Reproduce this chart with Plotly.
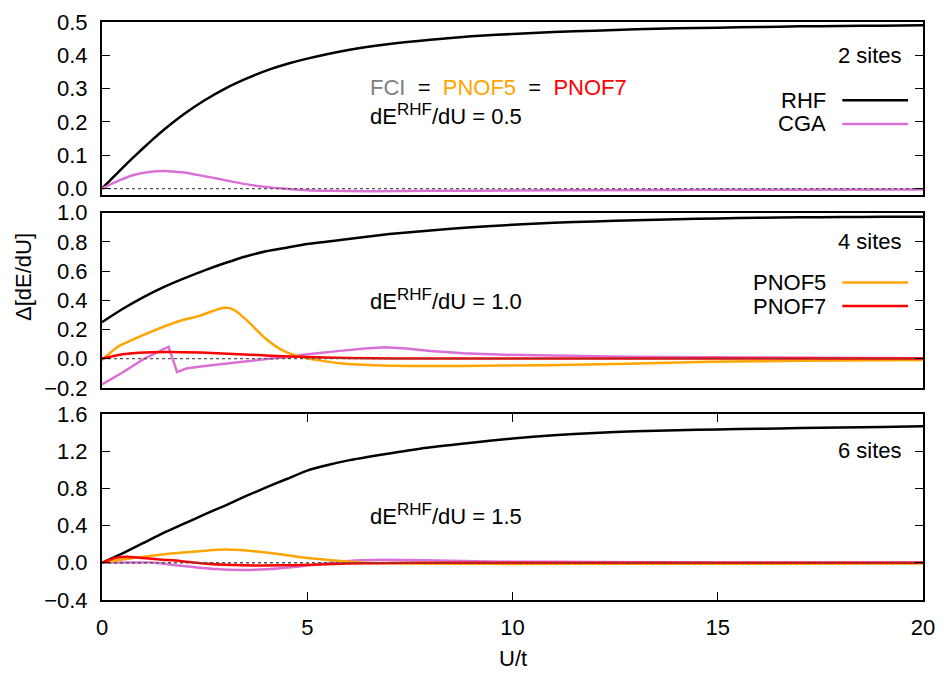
import plotly.graph_objects as go

# ---------------- data ----------------
U_RANGE = [0, 20]
fci_u = [0, 20]
fci_v = [0.0, 0.0]

# 2 sites
u2_rhf = [0, 0.25, 0.5, 0.75, 1, 1.25, 1.5, 2, 2.5, 3, 3.5, 4, 4.5, 5, 6, 7, 8, 9, 10,
          11, 12, 13, 14, 15, 16, 17, 18, 19, 20]
v2_rhf = [0.0, 0.031, 0.062, 0.092, 0.121, 0.149, 0.176, 0.224, 0.265, 0.300, 0.329, 0.354,
          0.374, 0.390, 0.416, 0.434, 0.447, 0.457, 0.464, 0.470, 0.474, 0.478, 0.481, 0.483,
          0.485, 0.487, 0.488, 0.489, 0.490]
u2_cga = [0, 0.3, 0.75, 1.1, 1.5, 2.0, 2.5, 2.8, 3.2, 3.6, 4.0, 4.4, 5.0, 5.5, 6.5, 8, 10, 12, 15, 20]
v2_cga = [0.0, 0.018, 0.040, 0.049, 0.053, 0.048, 0.037, 0.030, 0.020, 0.011, 0.005, 0.0,
          -0.005, -0.007, -0.008, -0.007, -0.006, -0.005, -0.004, -0.003]

# 4 sites
u4_rhf = [0, 0.5, 1, 1.5, 2, 2.5, 3, 3.5, 4, 4.5, 5, 6, 7, 8, 9, 10, 11, 12, 13, 14, 15,
          16, 17, 18, 19, 20]
v4_rhf = [0.25, 0.34, 0.42, 0.49, 0.55, 0.605, 0.655, 0.70, 0.735, 0.76, 0.785, 0.82, 0.853,
          0.878, 0.90, 0.917, 0.93, 0.94, 0.948, 0.955, 0.96, 0.965, 0.968, 0.97, 0.971, 0.972]
u4_cga = [0, 0.5, 1.0, 1.3, 1.62, 1.83, 2.05, 2.5, 3, 3.5, 4, 4.5, 5, 5.8, 6.4, 6.9, 7.4, 8,
          8.8, 9.8, 10.8, 12.8, 14.8, 17, 20]
v4_cga = [-0.177, -0.095, -0.005, 0.035, 0.082, -0.092, -0.068, -0.05, -0.033, -0.018, -0.003,
          0.01, 0.03, 0.053, 0.07, 0.078, 0.069, 0.052, 0.036, 0.026, 0.02, 0.013, 0.009, 0.005,
          0.002]
u4_p5 = [0, 0.2, 0.4, 0.75, 1.16, 1.56, 1.97, 2.37, 2.7, 2.94, 3.1, 3.26, 3.58, 3.99, 4.39,
         4.8, 5.3, 5.8, 6.8, 8.8, 10.8, 12.8, 14.8, 17, 20]
v4_p5 = [-0.01, 0.04, 0.085, 0.13, 0.18, 0.225, 0.264, 0.293, 0.326, 0.346, 0.346, 0.326,
         0.248, 0.136, 0.058, 0.015, -0.012, -0.032, -0.047, -0.05, -0.045, -0.035, -0.022,
         -0.015, -0.01]
u4_p7 = [0, 0.4, 0.9, 1.6, 2.4, 3.2, 4.0, 4.8, 6, 8, 20]
v4_p7 = [0.0, 0.025, 0.04, 0.046, 0.042, 0.032, 0.022, 0.012, 0.004, 0.0, 0.0]

# 6 sites
u6_rhf = [0, 0.5, 1, 1.5, 2, 2.5, 3, 3.5, 4, 4.5, 5, 5.5, 6, 6.5, 7, 8, 9, 10, 11, 12, 13,
          14, 15, 16, 17, 18, 19, 20]
v6_rhf = [0.0, 0.10, 0.21, 0.32, 0.42, 0.52, 0.615, 0.715, 0.81, 0.90, 0.99, 1.05, 1.10,
          1.14, 1.175, 1.24, 1.29, 1.335, 1.37, 1.395, 1.412, 1.424, 1.433, 1.44, 1.447, 1.453,
          1.46, 1.466]
u6_cga = [0, 0.5, 1.2, 2.0, 2.8, 3.35, 4.0, 4.8, 5.3, 5.8, 6.3, 6.8, 7.5, 8.8, 10, 12, 15, 20]
v6_cga = [0.0, 0.003, 0.002, -0.035, -0.068, -0.078, -0.07, -0.04, -0.015, 0.012, 0.027,
          0.033, 0.03, 0.018, 0.012, 0.008, 0.004, 0.002]
u6_p5 = [0, 0.4, 0.75, 1.56, 2.37, 2.84, 3.2, 3.58, 4.0, 4.39, 4.8, 5.3, 5.8, 6.3, 6.8, 8,
         10, 15, 20]
v6_p5 = [0.0, 0.03, 0.05, 0.095, 0.125, 0.14, 0.14, 0.13, 0.11, 0.089, 0.063, 0.04, 0.018,
         0.004, -0.005, -0.01, -0.012, -0.01, -0.008]
u6_p7 = [0, 0.2, 0.4, 0.6, 0.9, 1.4, 1.9, 2.4, 3.2, 4.4, 5.3, 6, 7, 8, 20]
v6_p7 = [0.0, 0.035, 0.058, 0.064, 0.055, 0.035, 0.02, -0.005, -0.025, -0.028, -0.018,
         -0.008, -0.002, 0.0, 0.0]

panel_labels = ["2 sites", "4 sites", "6 sites"]
slope_values = ["0.5", "1.0", "1.5"]
y_ranges = [[-0.02, 0.5], [-0.2, 1.0], [-0.4, 1.6]]
y_dticks = [0.1, 0.2, 0.4]
x_ticks = [0, 5, 10, 15, 20]

# ---------------- styles ----------------
C_RHF = "#000000"
C_CGA = "#DA70D6"
C_P5 = "#FFA500"
C_P7 = "#FF0000"
C_FCI = "#808080"
LW = 2.5
FONT = "Liberation Sans, Arial, sans-serif"
FS = 22

W, H = 945, 674
L, R, T, B = 102, 19, 10, 74
PW, PH = W - L - R, H - T - B


def xp(px):
    return (px - L) / PW


def yp(py):
    return (H - B - py) / PH


domains = [[yp(186.8), 1.0], [yp(383.4), yp(204.6)], [0.0, yp(410)]]

fig = go.Figure()


def add(u, v, color, ax, name, shape="spline"):
    fig.add_trace(go.Scatter(
        x=u, y=v, mode="lines", name=name, showlegend=False,
        line=dict(color=color, width=LW, shape=shape, smoothing=0.6),
        xaxis="x" + ax, yaxis="y" + ax, hoverinfo="skip"))


def add_fci(ax):
    fig.add_trace(go.Scatter(
        x=fci_u, y=fci_v, mode="lines", name="FCI", showlegend=False,
        line=dict(color="#555555", width=1.3, dash="dot"),
        xaxis="x" + ax, yaxis="y" + ax, hoverinfo="skip"))


# panel 1
add(u2_rhf, v2_rhf, C_RHF, "", "RHF")
add(u2_cga, v2_cga, C_CGA, "", "CGA")
add_fci("")
# panel 2
add(u4_rhf, v4_rhf, C_RHF, "2", "RHF")
add(u4_cga, v4_cga, C_CGA, "2", "CGA", shape="linear")
add(u4_p5, v4_p5, C_P5, "2", "PNOF5")
add(u4_p7, v4_p7, C_P7, "2", "PNOF7")
add_fci("2")
# panel 3
add(u6_rhf, v6_rhf, C_RHF, "3", "RHF")
add(u6_cga, v6_cga, C_CGA, "3", "CGA")
add(u6_p5, v6_p5, C_P5, "3", "PNOF5")
add(u6_p7, v6_p7, C_P7, "3", "PNOF7")
add_fci("3")

layout = dict(
    width=W, height=H, margin=dict(l=L, r=R, t=T, b=B),
    paper_bgcolor="white", plot_bgcolor="white",
    font=dict(family=FONT, size=FS, color="black"),
    showlegend=False,
)

for i, key in enumerate(["", "2", "3"]):
    bottom = (i == 2)
    layout["xaxis" + key] = dict(
        domain=[0, 1], anchor="y" + key, range=U_RANGE,
        showline=True, linecolor="black", linewidth=2, mirror="ticks" if bottom else True,
        ticks="inside" if bottom else "", ticklen=8, tickwidth=1, tickcolor="black",
        tickvals=x_ticks if bottom else [], showticklabels=bottom,
        ticklabelstandoff=7,
        showgrid=False, zeroline=False,
        tickfont=dict(family=FONT, size=FS),
    )
    layout["yaxis" + key] = dict(
        domain=domains[i], anchor="x" + key, range=y_ranges[i],
        dtick=y_dticks[i], tick0=0, tickformat=".1f",
        showline=True, linecolor="black", linewidth=2, mirror="ticks",
        ticks="inside", ticklen=8, tickwidth=1, tickcolor="black",
        ticklabelstandoff=8,
        showgrid=False, zeroline=False,
        tickfont=dict(family=FONT, size=FS),
    )

fig.update_layout(**layout)

ann = []
shapes = []

# panel labels
for lab, py in zip(panel_labels, [44, 234, 447]):
    ann.append(dict(text=lab, x=xp(907), y=yp(py), xref="paper", yref="paper",
                    xanchor="right", yanchor="middle", showarrow=False))

# slope labels
for val, py in zip(slope_values, [104, 293, 513]):
    lab = "dE<sup><span style='font-size:17px'>RHF</span></sup>/dU = " + val
    ann.append(dict(text=lab, x=xp(369), y=yp(py), xref="paper", yref="paper",
                    xanchor="left", yanchor="middle", showarrow=False))

# equality line in top panel
eq_text = ("<span style='color:%s'>FCI</span>\u00a0\u00a0=\u00a0\u00a0"
           "<span style='color:%s'>PNOF5</span>\u00a0\u00a0=\u00a0\u00a0"
           "<span style='color:%s'>PNOF7</span>") % (C_FCI, C_P5, C_P7)
ann.append(dict(text=eq_text, x=xp(369), y=yp(77), xref="paper", yref="paper",
                xanchor="left", yanchor="middle", showarrow=False))

# manual keys (gnuplot style: text, then line sample)
keys = [("RHF", C_RHF, 90), ("CGA", C_CGA, 114), ("PNOF5", C_P5, 276), ("PNOF7", C_P7, 300)]
for name, col, py in keys:
    ann.append(dict(text=name, x=xp(831), y=yp(py), xref="paper", yref="paper",
                    xanchor="right", yanchor="middle", showarrow=False))
    shapes.append(dict(type="line", xref="paper", yref="paper",
                       x0=xp(845), x1=xp(911), y0=yp(py), y1=yp(py),
                       line=dict(color=col, width=LW)))

# axis titles
ann.append(dict(text="\u0394[dE/dU]", x=xp(23), y=yp(270), xref="paper", yref="paper",
                xanchor="center", yanchor="middle", textangle=-90, showarrow=False))
ann.append(dict(text="U/t", x=xp(514), y=yp(660), xref="paper", yref="paper",
                xanchor="center", yanchor="middle", showarrow=False))

fig.update_layout(annotations=ann, shapes=shapes)
fig.write_html("out.html")
